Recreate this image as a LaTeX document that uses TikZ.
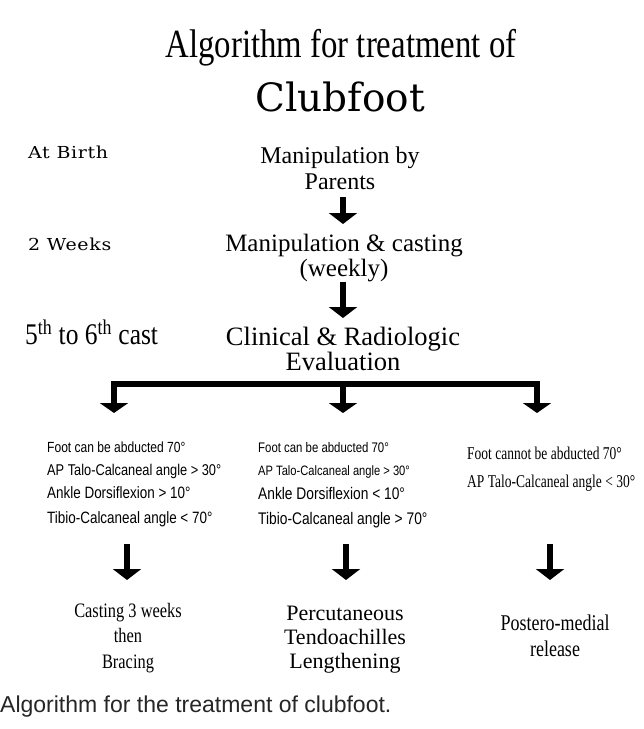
\documentclass[tikz,border=0pt]{standalone}
\usepackage{fontspec}
\setmainfont{Liberation Serif}
\newfontfamily\nserif[FakeStretch=0.8]{Liberation Serif}
\newfontfamily\tserif[FakeStretch=0.75]{Liberation Serif}
\newfontfamily\titleserif[FakeStretch=0.82]{Liberation Serif}
\newfontfamily\cserif[FakeStretch=0.85]{Liberation Serif}
\newfontfamily\nsans[FakeStretch=0.82]{Liberation Sans}
\newfontfamily\capsans{Liberation Sans}
\newfontfamily\cent{DejaVu Serif}
\newfontfamily\wcent[FakeStretch=1.15,LetterSpace=4]{DejaVu Serif}
\usetikzlibrary{arrows.meta}
\tikzset{
  txt/.style={inner sep=0pt, anchor=base},
  lt/.style={inner sep=0pt, anchor=base west},
  bigarrow/.style={line width=5.5pt, -{Triangle[width=28pt,length=11pt]}},
  barline/.style={line width=6pt, line join=miter},
}
\newcommand{\fs}[1]{\fontsize{#1}{#1}\selectfont}
\begin{document}
\begin{tikzpicture}[x=1pt,y=-1pt]
\useasboundingbox (0,0) rectangle (644,729);
% title
\node[txt,font=\titleserif\fs{40}] (t1) at (341,57) {Algorithm for treatment of};
\node[txt,font=\cent\fs{39}] (t2) at (340,111) {Clubfoot};
% left labels
\node[lt,font=\wcent\fs{16.5}] (l1) at (28,158) {At Birth};
\node[lt,font=\wcent\fs{16.5}] (l2) at (28,250) {2 Weeks};
\node[lt,font=\cserif\fs{30}] (l3) at (25,344) {5\textsuperscript{th} to 6\textsuperscript{th} cast};
% central steps
\node[txt,font=\fs{24}] (s1a) at (340,163) {Manipulation by};
\node[txt,font=\fs{24}] (s1b) at (340,189) {Parents};
\node[txt,font=\fs{25}] (s2a) at (344,251) {Manipulation \& casting};
\node[txt,font=\fs{25}] (s2b) at (344,276) {(weekly)};
\node[txt,font=\fs{26.5}] (s3a) at (343,345) {Clinical \& Radiologic};
\node[txt,font=\fs{26.5}] (s3b) at (343,370) {Evaluation};
% arrows between steps
\coordinate (a1s) at (343,197); \coordinate (a1e) at (343,224);
\coordinate (a2s) at (343,282); \coordinate (a2e) at (343,318);
\draw[bigarrow] (a1s) -- (a1e);
\draw[bigarrow] (a2s) -- (a2e);
% branching bar
\coordinate (bl) at (114,383.5); \coordinate (bm) at (343,383.5); \coordinate (br) at (537,383.5);
\coordinate (tl) at (114,413); \coordinate (tm) at (343,413); \coordinate (tr) at (537,413);
\draw[barline,{Triangle[width=28pt,length=10pt]}-{Triangle[width=28pt,length=10pt]}] (tl) -- (bl) -- (br) -- (tr);
\draw[line width=5.5pt,-{Triangle[width=28pt,length=10pt]}] (bm) -- (tm);
% left criteria
\node[lt,font=\nsans\fs{14.7}] (c1a) at (47,452) {Foot can be abducted 70°};
\node[lt,font=\nsans\fs{15.6}] (c1b) at (47,475) {AP Talo-Calcaneal angle > 30°};
\node[lt,font=\nsans\fs{16.4}] (c1c) at (47,498) {Ankle Dorsiflexion > 10°};
\node[lt,font=\nsans\fs{16.4}] (c1d) at (47,523) {Tibio-Calcaneal angle < 70°};
% middle criteria
\node[lt,font=\nsans\fs{13.9}] (c2a) at (258,452) {Foot can be abducted 70°};
\node[lt,font=\nsans\fs{13.6}] (c2b) at (258,475) {AP Talo-Calcaneal angle > 30°};
\node[lt,font=\nsans\fs{16.8}] (c2c) at (258,499) {Ankle Dorsiflexion < 10°};
\node[lt,font=\nsans\fs{16.8}] (c2d) at (258,524) {Tibio-Calcaneal angle > 70°};
% right criteria
\node[lt,font=\tserif\fs{18}] (c3a) at (467,459) {Foot cannot be abducted 70°};
\node[lt,font=\tserif\fs{18}] (c3b) at (467,487) {AP Talo-Calcaneal angle < 30°};
% lower arrows
\coordinate (dls) at (127,544); \coordinate (dle) at (127,580);
\coordinate (dms) at (346,544); \coordinate (dme) at (346,580);
\coordinate (drs) at (550,544); \coordinate (dre) at (550,580);
\draw[bigarrow] (dls) -- (dle);
\draw[bigarrow] (dms) -- (dme);
\draw[bigarrow] (drs) -- (dre);
% outcomes
\node[txt,font=\nserif\fs{20.5}] (o1a) at (128,617) {Casting 3 weeks};
\node[txt,font=\nserif\fs{20.5}] (o1b) at (128,642) {then};
\node[txt,font=\nserif\fs{20.5}] (o1c) at (128,668) {Bracing};
\node[txt,font=\fs{22}] (o2a) at (345,620) {Percutaneous};
\node[txt,font=\fs{22}] (o2b) at (345,644) {Tendoachilles};
\node[txt,font=\fs{22}] (o2c) at (345,668) {Lengthening};
\node[txt,font=\nserif\fs{22.5}] (o3a) at (555,630) {Postero-medial};
\node[txt,font=\nserif\fs{22.5}] (o3b) at (555,656) {release};
% caption
\node[lt,font=\capsans\fs{23},text=black!85] (cap) at (0,712) {Algorithm for the treatment of clubfoot.};
\end{tikzpicture}
\end{document}
